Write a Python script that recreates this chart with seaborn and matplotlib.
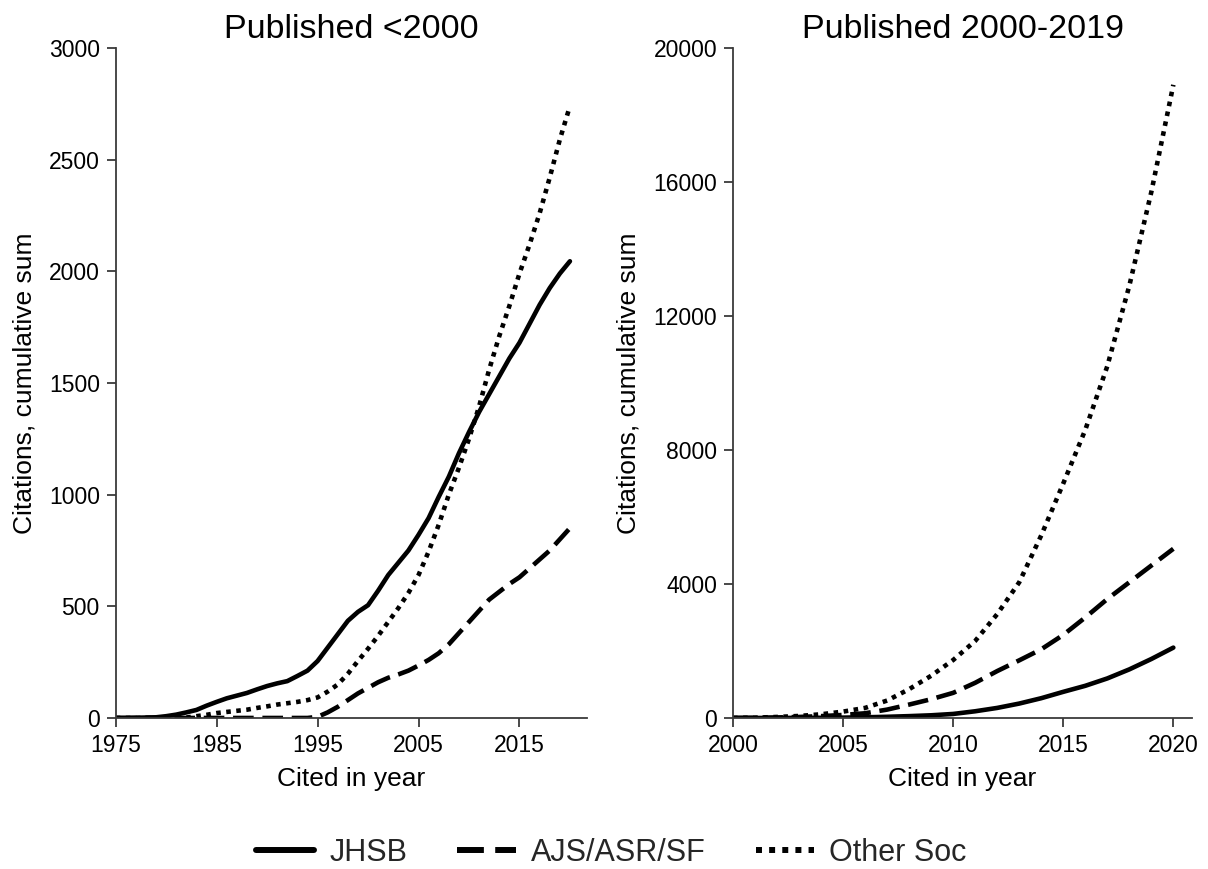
import matplotlib
matplotlib.use("Agg")
import matplotlib.pyplot as plt
import numpy as np
import pandas as pd
import seaborn as sns

# ---------------- data ----------------
series = ["JHSB", "AJS/ASR/SF", "Other Soc"]

years_pre = list(range(1975, 2021))
jhsb_pre = [0, 0, 1, 2, 3, 8, 15, 25, 36, 55,
            72, 88, 100, 112, 128, 143, 155, 165, 188, 212,
            255, 315, 375, 435, 475, 505, 570, 640, 695, 750,
            820, 895, 990, 1080, 1185, 1280, 1370, 1450, 1530, 1610,
            1680, 1765, 1850, 1925, 1990, 2045]
ajs_pre = [0, 0, 0, 0, 0, 0, 0, 0, 0, 0,
           0, 0, 0, 0, 0, 0, 0, 0, 0, 0,
           5, 25, 50, 80, 110, 135, 160, 180, 195, 212,
           235, 260, 290, 330, 380, 430, 480, 530, 565, 600,
           630, 670, 710, 750, 800, 850]
other_pre = [0, 0, 0, 0, 0, 0, 0, 2, 8, 14,
             22, 27, 32, 37, 45, 52, 60, 66, 72, 80,
             92, 118, 150, 198, 255, 310, 368, 430, 492, 560,
             640, 745, 865, 1000, 1120, 1250, 1395, 1560, 1710, 1845,
             1990, 2120, 2260, 2420, 2590, 2740]

years_post = list(range(2000, 2021))
jhsb_post = [0, 0, 1, 2, 5, 10, 20, 35, 55, 80,
             120, 200, 300, 430, 590, 780, 960, 1180, 1450, 1760, 2100]
ajs_post = [0, 5, 15, 30, 55, 90, 140, 250, 400, 560,
            750, 1050, 1400, 1720, 2050, 2480, 3000, 3550, 4050, 4550, 5050]
other_post = [0, 10, 30, 60, 110, 190, 300, 520, 860, 1260,
              1730, 2300, 3100, 4050, 5450, 7000, 8600, 10500, 12900, 15700, 18900]

titles = ["Published <2000", "Published 2000-2019"]
xticks_pre = [1975, 1985, 1995, 2005, 2015]
yticks_pre = [0, 500, 1000, 1500, 2000, 2500, 3000]
xticks_post = [2000, 2005, 2010, 2015, 2020]
yticks_post = [0, 4000, 8000, 12000, 16000, 20000]


def to_long(years, values):
    frames = [pd.DataFrame({"year": years, "cites": v, "journal": s})
              for s, v in zip(series, values)]
    return pd.concat(frames, ignore_index=True)


df_pre = to_long(years_pre, [jhsb_pre, ajs_pre, other_pre])
df_post = to_long(years_post, [jhsb_post, ajs_post, other_post])

# ---------------- style ----------------
sns.set_theme(style="white")
plt.rcParams["font.family"] = ["Liberation Sans", "DejaVu Sans"]

fig = plt.figure(figsize=(12.08, 8.69), dpi=100)
ax1 = fig.add_axes([0.0958, 0.1738, 0.3902, 0.7710])
ax2 = fig.add_axes([0.6068, 0.1738, 0.3800, 0.7710])

dash_map = {"JHSB": "", "AJS/ASR/SF": (4.5, 1.9), "Other Soc": (1.0, 1.2)}
spine_col = "#3a3a3a"

panels = [
    (ax1, df_pre, titles[0], xticks_pre, yticks_pre, (1975, 2021.7), (0, 3000)),
    (ax2, df_post, titles[1], xticks_post, yticks_post, (2000, 2020.85), (0, 20000)),
]

for ax, df, title, xt, yt, xl, yl in panels:
    sns.lineplot(data=df, x="year", y="cites", style="journal",
                 style_order=series, dashes=dash_map, color="black",
                 linewidth=3.3, legend=False, ax=ax)
    ax.set_xlim(*xl)
    ax.set_ylim(*yl)
    ax.set_xticks(xt)
    ax.set_yticks(yt)
    ax.set_xlabel("Cited in year", fontsize=19, labelpad=7, color="black")
    ax.set_ylabel("Citations, cumulative sum", fontsize=19, labelpad=9, color="black")
    ax.set_title(title, fontsize=24.5, pad=7, color="black")
    sns.despine(ax=ax)
    for side in ("left", "bottom"):
        ax.spines[side].set_color(spine_col)
        ax.spines[side].set_linewidth(1.3)
    ax.tick_params(axis="both", direction="out", length=6.5, width=1.3,
                   color=spine_col, labelsize=16.5, labelcolor="black",
                   left=True, bottom=True, pad=5)

handles = ax1.lines[:3]
leg = fig.legend(handles, series, loc="center", bbox_to_anchor=(0.506, 1 - 853 / 869),
                 ncol=3, frameon=False, fontsize=22, handlelength=1.9,
                 handletextpad=0.5, columnspacing=1.65)
for ln in leg.get_lines():
    ln.set_linewidth(4.3)

fig.savefig("out.png", dpi=100)
